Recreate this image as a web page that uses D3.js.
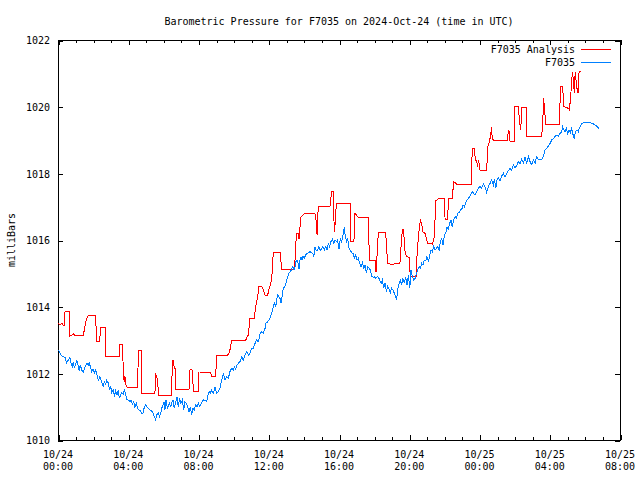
<!DOCTYPE html>
<html><head><meta charset="utf-8">
<script src="https://cdn.jsdelivr.net/npm/d3@7"></script>
<style>
body{margin:0;background:#fff;}
svg{display:block;background:#fff;}
text{font-family:"DejaVu Sans Mono","Liberation Mono",monospace;font-size:10px;fill:#000;}
</style></head><body>
<svg id="c" width="640" height="480"></svg>
<script>
const title = "Barometric Pressure for F7035 on 2024-Oct-24 (time in UTC)";
const yLabel = "milliBars";
const seriesNames = ["F7035 Analysis", "F7035"];
const seriesColors = ["#ff0000", "#0080ff"];
const yTicks = [1010, 1012, 1014, 1016, 1018, 1020, 1022];
const xTickDay = ["10/24","10/24","10/24","10/24","10/24","10/24","10/25","10/25","10/25"];
const xTickTime = ["00:00","04:00","08:00","12:00","16:00","20:00","00:00","04:00","08:00"];
const startTime = "2024-10-24T00:00:00Z";
const spanHours = 32;

// [hours since 2024-10-24 00:00 UTC, millibars]
const analysis = [[0.02,1013.50],[0.11,1013.45],[0.21,1013.50],[0.30,1013.45],[0.36,1013.45],[0.40,1013.85],[0.65,1013.85],[0.68,1013.12],[0.80,1013.15],[0.87,1013.20],[0.93,1013.15],[1.44,1013.15],[1.50,1013.30],[1.58,1013.55],[1.65,1013.65],[1.73,1013.73],[2.14,1013.73],[2.20,1012.95],[2.35,1012.95],[2.45,1013.38],[2.68,1013.38],[2.71,1012.52],[3.49,1012.52],[3.53,1012.87],[3.68,1012.87],[3.72,1011.92],[3.78,1011.75],[3.81,1011.92],[3.87,1011.65],[3.93,1011.58],[4.54,1011.58],[4.57,1012.70],[4.73,1012.70],[4.76,1011.40],[5.52,1011.40],[5.56,1012.00],[5.64,1011.85],[5.68,1011.80],[5.71,1011.35],[6.00,1011.35],[6.47,1011.32],[6.51,1012.40],[6.57,1012.40],[6.62,1012.15],[6.68,1012.15],[6.70,1011.52],[7.46,1011.52],[7.52,1012.12],[7.65,1012.10],[7.71,1011.45],[7.99,1011.45],[8.03,1012.04],[8.69,1012.03],[8.73,1011.92],[8.98,1011.92],[9.03,1012.55],[9.66,1012.55],[9.74,1012.62],[9.79,1012.70],[9.89,1013.00],[10.69,1013.00],[10.78,1013.10],[10.84,1013.15],[10.90,1013.50],[10.93,1013.65],[11.18,1013.65],[11.25,1014.00],[11.33,1014.20],[11.37,1014.30],[11.43,1014.60],[11.60,1014.62],[11.69,1014.50],[11.79,1014.35],[11.94,1014.35],[12.01,1014.52],[12.17,1014.80],[12.22,1015.40],[12.28,1015.63],[12.64,1015.63],[12.74,1015.12],[13.46,1015.12],[13.53,1015.65],[13.57,1016.20],[13.68,1016.20],[13.72,1016.02],[13.80,1016.50],[13.84,1016.70],[14.07,1016.80],[14.63,1016.80],[14.69,1016.60],[14.75,1016.15],[14.82,1017.02],[15.49,1017.02],[15.58,1017.45],[15.66,1017.45],[15.70,1016.70],[15.75,1016.25],[15.85,1017.10],[16.63,1017.10],[16.68,1015.95],[16.85,1015.95],[16.91,1016.80],[17.06,1016.70],[17.14,1016.68],[17.67,1016.68],[17.73,1015.40],[18.05,1015.40],[18.07,1015.05],[18.13,1015.05],[18.15,1015.40],[18.24,1016.22],[18.66,1016.22],[18.71,1015.75],[18.77,1015.30],[19.00,1015.27],[19.47,1015.30],[19.57,1016.10],[19.62,1016.32],[19.68,1016.32],[19.74,1015.70],[19.85,1015.50],[19.99,1015.48],[20.06,1014.90],[20.39,1014.90],[20.44,1015.50],[20.52,1016.10],[20.63,1016.60],[20.71,1016.50],[20.76,1016.25],[20.90,1016.20],[21.05,1015.90],[21.32,1015.88],[21.43,1016.10],[21.51,1017.18],[21.70,1017.25],[22.00,1017.25],[22.04,1016.62],[22.19,1016.62],[22.23,1017.25],[22.45,1017.25],[22.53,1017.75],[22.70,1017.68],[23.52,1017.68],[23.59,1018.75],[23.71,1018.75],[23.76,1018.40],[23.84,1018.40],[23.88,1018.20],[23.95,1018.40],[24.03,1018.10],[24.41,1018.10],[24.47,1018.80],[24.56,1018.95],[24.64,1019.15],[24.68,1019.40],[24.72,1019.10],[24.79,1018.98],[25.59,1018.98],[25.64,1019.28],[25.70,1019.25],[25.74,1018.95],[25.97,1018.95],[26.02,1020.00],[26.22,1020.00],[26.27,1019.60],[26.35,1019.30],[26.40,1019.98],[26.65,1019.98],[26.69,1019.10],[27.54,1019.10],[27.60,1019.50],[27.65,1020.25],[27.71,1019.90],[27.77,1019.48],[28.55,1019.48],[28.61,1020.60],[28.74,1020.60],[28.79,1020.00],[29.06,1019.95],[29.12,1019.90],[29.19,1020.30],[29.29,1021.05],[29.34,1020.80],[29.40,1020.40],[29.45,1021.05],[29.53,1020.60],[29.61,1020.40],[29.67,1021.05],[29.76,1021.05]];

const observed = [[0.02,1012.70],[0.11,1012.62],[0.21,1012.52],[0.30,1012.50],[0.40,1012.48],[0.49,1012.32],[0.59,1012.40],[0.68,1012.48],[0.74,1012.30],[0.82,1012.20],[0.87,1012.35],[0.93,1012.15],[1.01,1012.30],[1.08,1012.38],[1.16,1012.20],[1.20,1012.08],[1.27,1012.25],[1.35,1012.10],[1.44,1012.05],[1.54,1012.20],[1.63,1012.30],[1.73,1012.25],[1.78,1012.32],[1.84,1012.20],[1.92,1012.05],[1.99,1012.12],[2.07,1012.02],[2.14,1012.10],[2.22,1011.95],[2.30,1011.80],[2.39,1011.90],[2.49,1011.75],[2.58,1011.58],[2.64,1011.78],[2.71,1011.65],[2.77,1011.80],[2.87,1011.70],[2.92,1011.52],[3.00,1011.60],[3.06,1011.42],[3.15,1011.50],[3.21,1011.30],[3.28,1011.48],[3.36,1011.35],[3.44,1011.50],[3.49,1011.25],[3.57,1011.35],[3.63,1011.42],[3.72,1011.38],[3.78,1011.50],[3.85,1011.40],[3.91,1011.22],[4.00,1011.20],[4.10,1011.15],[4.16,1011.20],[4.23,1011.08],[4.31,1011.15],[4.38,1010.98],[4.46,1011.10],[4.54,1010.95],[4.61,1010.90],[4.69,1010.88],[4.76,1010.80],[4.84,1010.80],[4.92,1011.00],[4.99,1011.05],[5.07,1010.98],[5.14,1010.95],[5.24,1010.90],[5.33,1010.88],[5.41,1010.80],[5.49,1010.70],[5.56,1010.60],[5.62,1010.75],[5.71,1010.82],[5.77,1010.70],[5.85,1010.80],[5.90,1010.95],[5.98,1011.05],[6.04,1011.15],[6.09,1010.90],[6.15,1011.20],[6.23,1010.95],[6.28,1011.02],[6.34,1011.10],[6.42,1011.00],[6.47,1011.10],[6.55,1011.20],[6.62,1010.95],[6.70,1011.15],[6.78,1011.28],[6.85,1011.00],[6.93,1011.25],[7.00,1011.10],[7.08,1011.20],[7.16,1010.90],[7.23,1011.15],[7.31,1011.10],[7.38,1011.00],[7.46,1010.85],[7.54,1011.00],[7.61,1010.75],[7.69,1010.95],[7.76,1010.90],[7.84,1011.05],[7.91,1011.00],[7.99,1011.10],[8.07,1011.00],[8.14,1011.08],[8.22,1011.15],[8.29,1011.22],[8.33,1011.20],[8.47,1011.15],[8.52,1011.32],[8.60,1011.45],[8.67,1011.40],[8.75,1011.50],[8.84,1011.40],[8.94,1011.58],[9.03,1011.40],[9.13,1011.45],[9.22,1011.55],[9.32,1011.80],[9.42,1012.00],[9.51,1011.80],[9.61,1011.90],[9.70,1011.85],[9.79,1012.05],[9.89,1012.15],[9.98,1012.10],[10.04,1012.20],[10.12,1012.12],[10.19,1012.25],[10.27,1012.30],[10.36,1012.35],[10.46,1012.50],[10.55,1012.40],[10.65,1012.55],[10.74,1012.65],[10.84,1012.55],[10.93,1012.60],[11.03,1012.75],[11.12,1012.75],[11.22,1012.90],[11.31,1013.00],[11.41,1012.95],[11.50,1013.18],[11.60,1013.25],[11.69,1013.20],[11.79,1013.35],[11.84,1013.50],[11.94,1013.55],[12.01,1013.60],[12.07,1013.65],[12.17,1013.80],[12.26,1014.00],[12.32,1014.10],[12.39,1013.98],[12.45,1014.20],[12.51,1014.35],[12.58,1014.30],[12.64,1014.25],[12.70,1014.10],[12.77,1014.35],[12.83,1014.55],[12.93,1014.62],[13.00,1014.75],[13.08,1014.90],[13.15,1015.00],[13.23,1015.05],[13.30,1015.12],[13.36,1015.20],[13.44,1015.10],[13.50,1015.20],[13.55,1015.35],[13.61,1015.40],[13.67,1015.30],[13.72,1015.12],[13.78,1015.40],[13.84,1015.48],[13.89,1015.40],[13.95,1015.52],[14.02,1015.45],[14.10,1015.55],[14.18,1015.60],[14.25,1015.62],[14.35,1015.65],[14.44,1015.62],[14.52,1015.58],[14.56,1015.48],[14.63,1015.80],[14.71,1015.68],[14.78,1015.70],[14.86,1015.80],[14.94,1015.68],[15.01,1015.75],[15.09,1015.80],[15.17,1015.70],[15.24,1015.80],[15.32,1015.70],[15.39,1015.90],[15.47,1015.80],[15.54,1015.95],[15.62,1016.02],[15.70,1015.90],[15.77,1016.00],[15.87,1015.95],[15.92,1016.00],[16.00,1015.72],[16.08,1016.05],[16.15,1015.95],[16.25,1016.20],[16.30,1016.40],[16.36,1016.10],[16.44,1015.95],[16.49,1016.05],[16.57,1015.75],[16.64,1015.70],[16.72,1015.62],[16.80,1015.60],[16.87,1015.45],[16.95,1015.55],[17.03,1015.40],[17.10,1015.45],[17.18,1015.30],[17.25,1015.20],[17.33,1015.32],[17.41,1015.15],[17.48,1015.25],[17.56,1015.02],[17.63,1015.20],[17.71,1015.15],[17.79,1015.10],[17.86,1014.92],[17.94,1014.88],[18.02,1014.90],[18.09,1014.85],[18.17,1014.90],[18.25,1014.88],[18.32,1014.80],[18.40,1014.70],[18.47,1014.80],[18.55,1014.55],[18.62,1014.70],[18.70,1014.45],[18.77,1014.60],[18.85,1014.52],[18.92,1014.42],[19.00,1014.55],[19.08,1014.50],[19.15,1014.40],[19.23,1014.30],[19.28,1014.20],[19.34,1014.50],[19.42,1014.70],[19.49,1014.80],[19.57,1014.65],[19.64,1014.85],[19.72,1014.70],[19.80,1014.90],[19.87,1014.65],[19.95,1014.95],[20.03,1014.55],[20.10,1015.10],[20.18,1014.90],[20.25,1014.80],[20.33,1014.85],[20.41,1014.98],[20.48,1015.10],[20.56,1015.20],[20.63,1015.15],[20.71,1015.30],[20.79,1015.25],[20.86,1015.40],[20.94,1015.38],[21.01,1015.50],[21.09,1015.35],[21.16,1015.52],[21.24,1015.70],[21.32,1015.65],[21.39,1015.80],[21.47,1015.70],[21.54,1015.75],[21.62,1015.80],[21.70,1015.70],[21.77,1015.95],[21.85,1016.05],[21.92,1015.85],[22.00,1016.15],[22.07,1016.20],[22.15,1016.38],[22.23,1016.32],[22.30,1016.50],[22.38,1016.60],[22.45,1016.38],[22.53,1016.62],[22.61,1016.70],[22.68,1016.65],[22.76,1016.80],[22.83,1016.82],[22.91,1016.90],[22.99,1016.92],[23.06,1017.05],[23.14,1017.00],[23.21,1017.10],[23.29,1017.20],[23.37,1017.25],[23.44,1017.30],[23.52,1017.38],[23.59,1017.45],[23.67,1017.40],[23.74,1017.35],[23.84,1017.45],[23.93,1017.55],[24.03,1017.62],[24.12,1017.55],[24.22,1017.68],[24.31,1017.60],[24.41,1017.42],[24.50,1017.60],[24.60,1017.70],[24.69,1017.80],[24.79,1017.65],[24.85,1017.82],[24.93,1017.55],[25.00,1017.80],[25.07,1017.88],[25.17,1017.78],[25.26,1017.92],[25.36,1018.00],[25.45,1017.90],[25.55,1018.00],[25.64,1018.08],[25.74,1018.15],[25.83,1018.10],[25.93,1018.25],[26.02,1018.18],[26.12,1018.22],[26.21,1018.35],[26.31,1018.28],[26.40,1018.42],[26.50,1018.32],[26.59,1018.48],[26.69,1018.30],[26.79,1018.50],[26.88,1018.35],[26.98,1018.25],[27.07,1018.40],[27.17,1018.30],[27.25,1018.50],[27.35,1018.42],[27.45,1018.42],[27.54,1018.42],[27.64,1018.50],[27.73,1018.70],[27.83,1018.75],[27.92,1018.82],[28.02,1018.90],[28.11,1019.00],[28.21,1019.05],[28.30,1019.10],[28.40,1019.15],[28.49,1019.12],[28.59,1019.20],[28.68,1019.25],[28.73,1019.40],[28.79,1019.32],[28.87,1019.25],[28.94,1019.35],[29.02,1019.18],[29.10,1019.30],[29.17,1019.22],[29.25,1019.35],[29.33,1019.15],[29.40,1019.02],[29.46,1019.25],[29.55,1019.30],[29.63,1019.25],[29.67,1019.35],[29.73,1019.40],[29.82,1019.50],[30.01,1019.52],[30.30,1019.52],[30.49,1019.48],[30.67,1019.42],[30.83,1019.32]];

const L = 58, R = 620, T = 40, B = 440;
const t0 = new Date(startTime);
const toDate = h => new Date(t0.getTime() + h * 3600e3);
const t1 = toDate(spanHours);

const svg = d3.select("#c");
svg.append("rect").attr("width", 640).attr("height", 480).attr("fill", "#fff");

const x = d3.scaleUtc().domain([t0, t1]).range([L, R]);
const y = d3.scaleLinear().domain([1010, 1022]).range([B, T]);

const majorX = d3.utcHour.every(4).range(t0, toDate(spanHours + 0.01));
const minorX = d3.utcHour.every(1).range(t0, toDate(spanHours + 0.01)).filter(d => d.getUTCHours() % 4 !== 0);

function clean(g) {
  g.select(".domain").remove();
  g.selectAll("line").attr("stroke", "#000").attr("shape-rendering", "crispEdges");
}
// bottom
svg.append("g").attr("transform", `translate(0.5,${B})`)
  .call(d3.axisBottom(x).tickValues(majorX).tickSize(-5).tickFormat(""))
  .call(clean);
svg.append("g").attr("transform", `translate(0.5,${B})`)
  .call(d3.axisBottom(x).tickValues(minorX).tickSize(-3).tickFormat(""))
  .call(clean);
// top
svg.append("g").attr("transform", `translate(0.5,${T})`)
  .call(d3.axisTop(x).tickValues(majorX).tickSize(-5).tickFormat(""))
  .call(clean);
svg.append("g").attr("transform", `translate(0.5,${T})`)
  .call(d3.axisTop(x).tickValues(minorX).tickSize(-3).tickFormat(""))
  .call(clean);
// left
const gl = svg.append("g").attr("transform", `translate(${L},0.5)`)
  .call(d3.axisLeft(y).tickValues(yTicks).tickSize(-5).tickPadding(8).tickFormat(d3.format("d")))
  .call(clean);
gl.selectAll("text").attr("font-family", null).attr("font-size", null).attr("fill", "#000");
// right
svg.append("g").attr("transform", `translate(${R},0.5)`)
  .call(d3.axisRight(y).tickValues(yTicks).tickSize(-5).tickFormat(""))
  .call(clean);

// x tick labels (two lines)
const xl = svg.append("g");
majorX.forEach((d, i) => {
  const t = xl.append("text").attr("text-anchor", "middle");
  t.append("tspan").attr("x", x(d)).attr("y", 458).text(xTickDay[i]);
  t.append("tspan").attr("x", x(d)).attr("y", 470).text(xTickTime[i]);
});

// frame
svg.append("rect").attr("x", L + 0.5).attr("y", T + 0.5)
  .attr("width", R - L).attr("height", B - T)
  .attr("fill", "none").attr("stroke", "#000").attr("shape-rendering", "crispEdges");

// lines
const line = d3.line().x(d => x(toDate(d[0]))).y(d => y(d[1]));
[analysis, observed].forEach((data, i) => {
  svg.append("path").datum(data).attr("d", line)
    .attr("fill", "none").attr("stroke", seriesColors[i]).attr("stroke-width", 1)
    .attr("shape-rendering", "crispEdges");
});

// title
svg.append("text").attr("x", 339).attr("y", 25).attr("text-anchor", "middle").text(title);
// y label
svg.append("text").attr("transform", "translate(15,240) rotate(-90)").attr("text-anchor", "middle").text(yLabel);

// legend
seriesNames.forEach((n, i) => {
  const ly = 49 + i * 13;
  svg.append("text").attr("x", 575).attr("y", ly + 3.5).attr("text-anchor", "end").text(n);
  svg.append("line").attr("x1", 581).attr("x2", 611).attr("y1", ly + 0.5).attr("y2", ly + 0.5)
    .attr("stroke", seriesColors[i]).attr("shape-rendering", "crispEdges");
});
</script>
</body></html>
